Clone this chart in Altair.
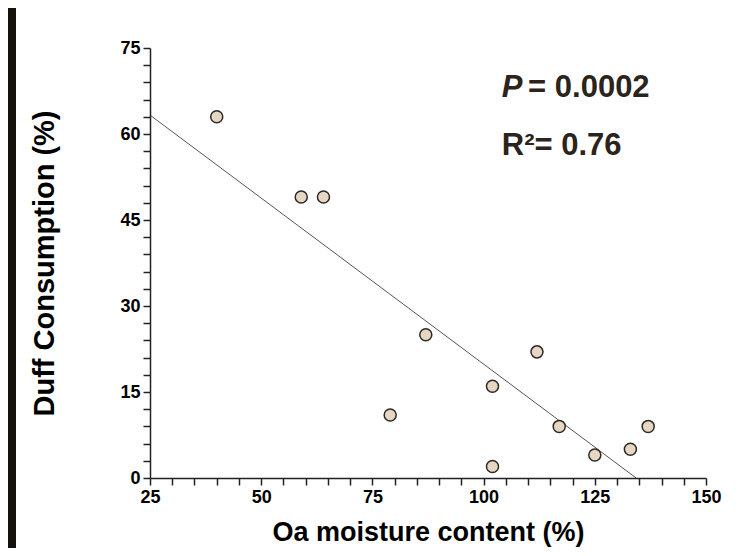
import altair as alt
import pandas as pd

# Data
oa_moisture = [40, 59, 64, 87, 79, 112, 102, 102, 117, 125, 133, 137]
duff_consumption = [63, 49, 49, 25, 11, 22, 16, 2, 9, 4, 5, 9]

fit_x = [25, 134.3]
fit_y = [63.3, 0]

x_ticks = list(range(25, 151, 5))
y_ticks = list(range(0, 76, 3))

italic_x = [104.1]
italic_y = [66.5]
italic_text = ["P"]

plain_x = [110.0, 104.1]
plain_y = [66.5, 56.3]
plain_text = ["= 0.0002", "R²= 0.76"]

pts = pd.DataFrame({"x": oa_moisture, "y": duff_consumption})
fit = pd.DataFrame({"x": fit_x, "y": fit_y})
ann_i = pd.DataFrame({"x": italic_x, "y": italic_y, "t": italic_text})
ann_p = pd.DataFrame({"x": plain_x, "y": plain_y, "t": plain_text})

FONT = "Liberation Sans"
x_scale = alt.Scale(domain=[25, 150], nice=False, zero=False)
y_scale = alt.Scale(domain=[0, 75], nice=False)

common_axis = dict(
    grid=False,
    zindex=1,
    labelOverlap=False,
    labelFont=FONT,
    labelFontSize=18,
    labelFontWeight="bold",
    labelColor="#000000",
    labelPadding=3,
    titleFont=FONT,
    titleFontWeight="bold",
    titleColor="#000000",
    domainColor="#222222",
    domainWidth=1.5,
    tickColor="#222222",
    tickWidth=1.5,
    tickSize=7,
)

x_axis = alt.Axis(
    title="Oa moisture content (%)",
    values=x_ticks,
    labelExpr="datum.value % 25 == 0 ? datum.label : ''",
    titlePadding=13,
    titleFontSize=27,
    labelFlush=False,
    **common_axis,
)
y_axis = alt.Axis(
    title="Duff Consumption (%)",
    values=y_ticks,
    labelExpr="datum.value % 15 == 0 ? datum.label : ''",
    titlePadding=60,
    titleFontSize=29,
    **common_axis,
)

X = alt.X("x:Q", scale=x_scale, axis=x_axis)
Y = alt.Y("y:Q", scale=y_scale, axis=y_axis)

frame = alt.Chart(pd.DataFrame({"a": [0]})).mark_rect(color="white").encode(
    x=alt.value(-134), x2=alt.value(585), y=alt.value(-40), y2=alt.value(500)
)

line = alt.Chart(fit).mark_line(color="#555555", strokeWidth=1).encode(x=X, y=Y)

points = alt.Chart(pts).mark_point(
    shape="circle", filled=True, fill="#e6d7c2", stroke="#2a2a2a",
    strokeWidth=1.5, size=145, opacity=1
).encode(x=X, y=Y)

text_style = dict(align="left", baseline="alphabetic", font=FONT, fontSize=31,
                  fontWeight="bold", color="#2b241d")

texts_i = alt.Chart(ann_i).mark_text(fontStyle="italic", **text_style).encode(
    x=X, y=Y, text="t:N"
)
texts_p = alt.Chart(ann_p).mark_text(**text_style).encode(
    x=X, y=Y, text="t:N"
)

chart = alt.layer(frame, line, points, texts_i, texts_p).properties(
    width=556,
    height=430,
    padding={"left": 142, "top": 40, "right": 26, "bottom": 70},
    autosize=alt.AutoSizeParams(type="none"),
    background="#15110d",
).configure_view(stroke=None)

chart.save("out.html", embed_options={"renderer": "svg", "actions": False})
